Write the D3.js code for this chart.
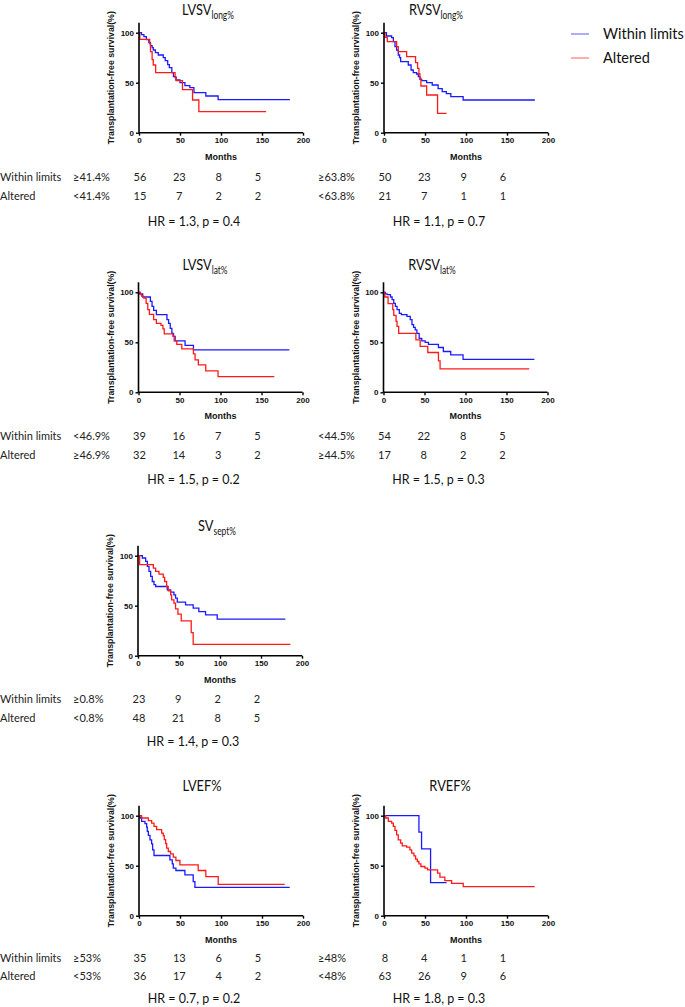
<!DOCTYPE html>
<html><head><meta charset="utf-8">
<script src="https://cdn.jsdelivr.net/npm/d3@7"></script>
<style>
body{margin:0;background:#fff;}
svg{display:block;}
</style></head>
<body>
<svg id="c" width="685" height="1007"></svg>
<script>
// ---------- DATA ----------
const seriesNames = ["Within limits", "Altered"];
const xTicks = [0, 50, 100, 150, 200];
const yTicks = [0, 50, 100];
const riskTimes = [0, 50, 100, 150];

// Kaplan-Meier step points [months, survival %]
const lvsvLongWithin = [[0,100],[3,98],[6,96],[9,93],[12,90],[14,87],[16,85],[17.4,82.7],[20,80],[23.5,77.7],[29.6,75],[32,72],[35,68],[37,65],[40,60],[42,56],[45,52.7],[50,50],[56,47],[62,45],[67,40],[81.5,36.7],[96.5,33],[184,33]];
const lvsvLongAltered = [[0,100],[1,93.3],[13,89],[14,81],[16,73],[17.4,67.7],[20.3,60],[44,55],[45.5,52],[53,43],[65.3,32.7],[73,21],[155,21]];
const rvsvLongWithin = [[0,100],[3,96.7],[9.3,95],[11.4,91],[13.4,86],[15.4,82.7],[17.4,77.7],[19,75],[20.3,71],[29.6,67.7],[33,62.7],[35.7,60],[39.8,58.7],[41.8,56],[43.8,53.3],[46,52],[52,50],[58.8,47.7],[66,44],[71,41],[76,39],[81.5,36],[96.5,32.7],[184,32.7]];
const rvsvLongAltered = [[0,100],[1.2,95.3],[4,91],[15.4,86],[17.4,81],[27.6,76],[38.5,70],[41,64.3],[42.6,58.7],[43.8,54.3],[45,46.7],[52,37.7],[65.3,19.3],[76.3,19.3]];
const lvsvLatWithin = [[0,100],[1.6,98.3],[5.2,95.3],[14.5,91],[16.5,86],[18.5,82],[21.8,77.6],[34.7,72.6],[36.7,69],[38.7,64],[40.7,59],[42.7,56],[44.7,51.5],[56.8,47],[67,42.5],[184,42.5]];
const lvsvLatAltered = [[0,100],[2.4,97.6],[4,96],[6.4,94.3],[9.3,89],[11.3,82.6],[13.3,78],[18.5,72.6],[21.8,69],[27.4,67],[29.8,63.5],[31.4,58.5],[42,56],[43.5,51.5],[46.7,48],[52.8,43.5],[67,38.5],[69,32.4],[73,27.4],[82,21.4],[97,15.7],[165.6,15.7]];
const rvsvLatWithin = [[0,100],[2.4,98.5],[4.4,97.6],[8.5,95.3],[10.5,92.6],[12.5,89],[14.5,86],[16.5,82.6],[19.3,79],[21.8,77.6],[28.6,76],[32.6,72.6],[34.7,67.6],[36.7,65],[38.7,62.5],[40.7,59],[43.5,54],[46.7,51.5],[50.8,50],[54.8,48],[67,44.8],[73,40.8],[82,37.5],[97,33],[184,33]];
const rvsvLatAltered = [[0,100],[1.6,95.3],[5.6,88.6],[11.3,82.6],[12.5,77],[15.3,71],[16.5,66],[18.5,59],[39.5,52.5],[44.7,46],[54,39.8],[67,31.4],[69,23.4],[177.7,23.4]];
const svSeptWithin = [[0,100],[5.3,97.7],[9.3,94.3],[11.4,89.3],[13.4,84.3],[15.4,79.3],[17.4,74.2],[19.5,71],[21.5,69.2],[35.7,65.9],[39.8,63.5],[43.8,60.9],[45.8,57.5],[47.9,53.5],[58,50.8],[67.3,47.5],[74.2,44.1],[82.4,40.8],[96.6,36.5],[179.7,36.5]];
const svSeptAltered = [[0,100],[2,91],[18.7,87.6],[21.5,84.3],[25.6,81.6],[30.8,78.3],[32.5,74.2],[34.9,69.2],[36.9,64.9],[39.8,60.9],[41,55.9],[43.8,52.5],[45.8,46.8],[48.7,41.5],[52.7,34.8],[64.9,23],[67.3,11.4],[185.8,11.4]];
const lvefWithin = [[0,100],[1.2,97.7],[3.2,94.3],[7.3,92],[9.3,88.6],[10.1,84.3],[11.4,80.3],[13.4,75.9],[15.4,71.9],[16.6,65.9],[18.3,60.2],[37.7,55.9],[40.6,51.8],[41.8,47.5],[45,45.2],[56,40.8],[66.1,34.1],[68.2,28.4],[183.8,28.4]];
const lvefAltered = [[0,100],[3.2,97.7],[11.4,95],[15.4,92.6],[18.3,89.3],[21.5,86],[27.6,82.6],[29.6,80],[30.8,76],[32.5,72],[33.7,67.6],[35.7,64.2],[38.5,61.9],[41.8,58.5],[45,55.2],[49.9,50.8],[72.2,45.2],[81.5,39.1],[96.6,31.4],[177.7,31.4]];
const rvefWithin = [[0,100],[42.6,83.6],[45.8,66.9],[56.8,33.1],[76.3,33.1]];
const rvefAltered = [[0,100],[2,97.7],[5.3,94.3],[9.3,92.6],[11.4,89.3],[13.4,85.3],[15.4,80.9],[17.4,75.9],[20.3,72.6],[22.3,69.9],[27.6,68.6],[31.6,65.9],[33.7,62.5],[36.5,59.9],[38.5,56.5],[40.6,54.2],[42.6,51.8],[45,49.2],[49.9,47.5],[53.1,45.8],[65.3,42.5],[68.2,38.5],[74.2,35.1],[82.4,32.4],[96.6,29.1],[183.8,29.1]];

// Titles (main, subscript)
const titles = [["LVSV","long%"],["RVSV","long%"],["LVSV","lat%"],["RVSV","lat%"],["SV","sept%"],["LVEF%",""],["RVEF%",""]];
// Cut-off labels [within, altered]
const cutoffs = [["≥41.4%","<41.4%"],["≥63.8%","<63.8%"],["<46.9%","≥46.9%"],["<44.5%","≥44.5%"],["≥0.8%","<0.8%"],["≥53%","<53%"],["≥48%","<48%"]];
// Number at risk at 0, 50, 100, 150 months
const riskWithin = [[56,23,8,5],[50,23,9,6],[39,16,7,5],[54,22,8,5],[23,9,2,2],[35,13,6,5],[8,4,1,1]];
const riskAltered = [[15,7,2,2],[21,7,1,1],[32,14,3,2],[17,8,2,2],[48,21,8,5],[36,17,4,2],[63,26,9,6]];
const hrLabels = ["HR = 1.3, p = 0.4","HR = 1.1, p = 0.7","HR = 1.5, p = 0.2","HR = 1.5, p = 0.3","HR = 1.4, p = 0.3","HR = 0.7, p = 0.2","HR = 1.8, p = 0.3"];
const curvesWithin = [lvsvLongWithin, rvsvLongWithin, lvsvLatWithin, rvsvLatWithin, svSeptWithin, lvefWithin, rvefWithin];
const curvesAltered = [lvsvLongAltered, rvsvLongAltered, lvsvLatAltered, rvsvLatAltered, svSeptAltered, lvefAltered, rvefAltered];

// ---------- LAYOUT ----------
const colors = ["#1a1aff", "#ff1a1a"];
const panelPos = [
  {x:139, y:132.7, tx:208, ty:-118, r1:48, r2:67, hr:93},
  {x:384, y:132.7, tx:436, ty:-118, r1:48, r2:67, hr:93},
  {x:138.5, y:392.3, tx:205, ty:-122, r1:48, r2:67, hr:92},
  {x:383.5, y:392.3, tx:432, ty:-122, r1:48, r2:67, hr:92},
  {x:138, y:655.7, tx:217, ty:-125, r1:47, r2:66, hr:90},
  {x:139, y:915.7, tx:202, ty:-125, r1:46, r2:64, hr:87},
  {x:384, y:915.7, tx:450, ty:-125, r1:46, r2:64, hr:87}
];
const plotW = 164, plotH100 = 100;

const svg = d3.select("#c");
const x = d3.scaleLinear().domain([0,200]).range([0, plotW]);
const y = d3.scaleLinear().domain([0,100]).range([0, -plotH100]);
const line = d3.line().x(d=>x(d[0])).y(d=>y(d[1])).curve(d3.curveStepAfter);
const font = "Lato, 'Open Sans', sans-serif";

panelPos.forEach((p,i)=>{
  const g = svg.append("g").attr("transform",`translate(${p.x},${p.y})`);
  // title
  const tg = svg.append("g").attr("transform",`translate(${p.tx},${p.y+p.ty}) scale(0.8,1)`);
  const t = tg.append("text").attr("text-anchor","middle")
    .style("font-family",font).style("font-size","16px").attr("fill","#111");
  t.append("tspan").text(titles[i][0]);
  if (titles[i][1]) t.append("tspan").attr("dy",4).style("font-size","10.5px").text(titles[i][1]);

  // curves
  [curvesWithin[i], curvesAltered[i]].forEach((c,k)=>{
    g.append("path").datum(c).attr("d",line).attr("fill","none")
      .attr("stroke",colors[k]).attr("stroke-width",1.3);
  });

  // axes
  const yAxis = d3.axisLeft(d3.scaleLinear().domain([0,110]).range([0,-110])).tickValues(yTicks).tickSize(3).tickPadding(2);
  const ya = g.append("g").call(yAxis);
  const xAxis = d3.axisBottom(x).tickValues(xTicks).tickSize(3).tickPadding(2);
  const xa = g.append("g").call(xAxis);
  [ya, xa].forEach(a=>{
    a.select(".domain").attr("stroke","#000").attr("stroke-width",1.6);
    a.selectAll(".tick line").attr("stroke","#000").attr("stroke-width",1.4);
    a.selectAll(".tick text").attr("fill","#111")
      .style("font-family","'Liberation Sans', Arial, sans-serif").style("font-size","8px").style("font-weight","bold");
  });
  xa.select(".domain").attr("d",`M0,0H${plotW}`);
  ya.select(".domain").attr("d",`M0,0V-110`);

  // axis labels
  g.append("text").attr("transform",`translate(-25,${-55}) rotate(-90)`)
    .attr("text-anchor","middle").attr("fill","#111")
    .style("font-family","'Liberation Sans', Arial, sans-serif").style("font-size","8.5px").style("font-weight","bold")
    .attr("textLength",133).attr("lengthAdjust","spacingAndGlyphs")
    .text("Transplantation-free survival(%)");
  g.append("text").attr("x",plotW/2).attr("y",27).attr("text-anchor","middle").attr("fill","#111")
    .style("font-family","'Liberation Sans', Arial, sans-serif").style("font-size","9px").style("font-weight","bold")
    .text("Months");

  // risk table
  const right = i===1||i===3||i===6;
  const tx0 = right ? 318 : 73;
  const rows = [riskWithin[i], riskAltered[i]];
  rows.forEach((r,k)=>{
    const ry = p.y + (k===0 ? p.r1 : p.r2);
    if (!right) svg.append("text").attr("x",0).attr("y",ry).attr("fill","#222")
      .style("font-family",font).style("font-size","11px").text(seriesNames[k]);
    svg.append("text").attr("x",tx0).attr("y",ry).attr("fill","#222")
      .style("font-family",font).style("font-size","11px").text(cutoffs[i][k]);
    r.forEach((v,j)=>{
      svg.append("text").attr("x",p.x + 1 + j*39.3).attr("y",ry).attr("text-anchor","middle").attr("fill","#222")
        .style("font-family",font).style("font-size","11px").text(v);
    });
  });
  svg.append("g").attr("transform",`translate(${p.x+55},${p.y+p.hr}) scale(0.89,1)`)
    .append("text").attr("text-anchor","middle").attr("fill","#111")
    .style("font-family",font).style("font-size","14px").text(hrLabels[i]);
});

// legend
seriesNames.forEach((n,k)=>{
  const ly = 34 + k*24;
  svg.append("line").attr("x1",571).attr("x2",589).attr("y1",ly).attr("y2",ly)
    .attr("stroke",colors[k]).attr("stroke-width",1.2).attr("stroke-opacity",0.6);
  svg.append("text").attr("x",603).attr("y",ly+5).attr("fill","#111")
    .style("font-family",font).style("font-size","14.5px").text(n);
});
</script>
</body></html>
